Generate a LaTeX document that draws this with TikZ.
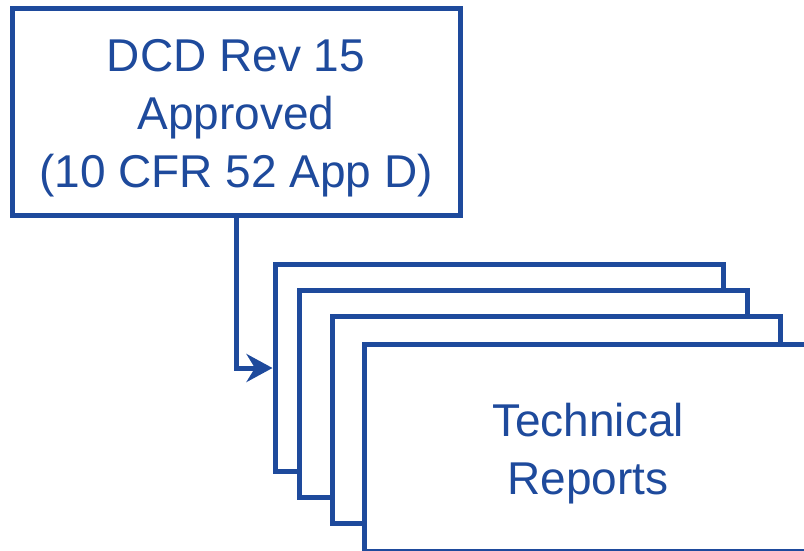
\documentclass[tikz,border=0pt]{standalone}
\usepackage{fontspec}
\setmainfont{Liberation Sans}
\usepackage{xcolor}
\usetikzlibrary{arrows.meta}
\definecolor{nrcblue}{RGB}{30,74,156}

\begin{document}
\begin{tikzpicture}[x=1pt, y=-1pt, line width=5pt,
        box/.style={draw=nrcblue, fill=white, minimum width=448pt, minimum height=207pt},
        txt/.style={align=center, text=nrcblue, inner sep=0pt, font=\fontsize{46}{58}\selectfont}]
        \clip (0, 0) rectangle (804, 550);

        \node[box] (dcd) at (236, 111.5) {};
        \node[txt] (dcdtext) at ([yshift=-7pt]dcd.center) {DCD Rev 15\\Approved\\(10 CFR 52 App D)};

        \node[box] (rep1) at (499, 368) {};
        \node[box] (rep2) at (523.5, 394) {};
        \node[box] (rep3) at (556, 420) {};
        \node[box] (rep4) at (588, 448) {};
        \node[txt] (reptext) at ([yshift=-6pt]rep4.center) {Technical\\Reports};

        \draw[nrcblue, -{Stealth[length=26pt, width=28pt]}] (dcd.south) |- (rep1.west);
    \end{tikzpicture}
\end{document}
